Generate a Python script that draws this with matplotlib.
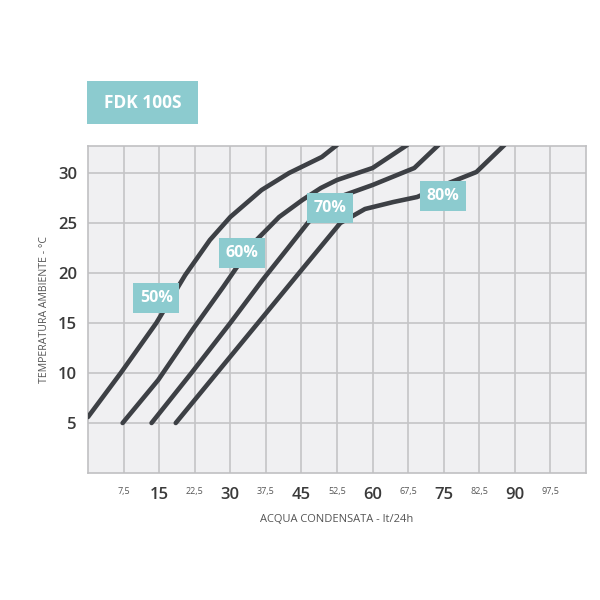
import matplotlib
matplotlib.use("Agg")
import matplotlib.pyplot as plt
from matplotlib.patches import Rectangle

plt.rcParams['font.family'] = ['Open Sans', 'DejaVu Sans']

# ---- data ----
rh50_x = [0, 6.9, 14.4, 20.5, 25.7, 30.0, 36.6, 42.4, 49.3, 52.5]
rh50_y = [5.6, 10.0, 15.0, 19.8, 23.3, 25.6, 28.3, 30.0, 31.6, 32.8]

rh60_x = [7.3, 14.8, 22.0, 28.5, 34.9, 40.3, 45.2, 49.1, 52.5, 60, 67.3]
rh60_y = [5.0, 9.3, 14.3, 18.6, 23.0, 25.6, 27.3, 28.5, 29.3, 30.5, 32.8]

rh70_x = [13.4, 21.8, 30.0, 36.8, 42.0, 46.5, 54.1, 60, 68.8, 73.9]
rh70_y = [5.0, 10.0, 15.0, 19.3, 22.4, 25.1, 27.8, 28.8, 30.5, 32.8]

rh80_x = [18.5, 44.5, 53.2, 58.4, 64.4, 69.4, 76.1, 81.9, 87.8]
rh80_y = [5.0, 20.0, 25.0, 26.4, 27.1, 27.6, 29.0, 30.1, 32.8]

series_labels = ['50%', '60%', '70%', '80%']
label_x = [14.4, 32.4, 51.0, 74.8]
label_y = [17.5, 22.0, 26.5, 27.7]

x_ticks = [7.5, 15, 22.5, 30, 37.5, 45, 52.5, 60, 67.5, 75, 82.5, 90, 97.5]
x_tick_labels = ['7,5', '15', '22,5', '30', '37,5', '45', '52,5', '60', '67,5', '75', '82,5', '90', '97,5']
y_ticks = [5, 10, 15, 20, 25, 30]
y_tick_labels = ['5', '10', '15', '20', '25', '30']

title = 'FDK 100S'
xlabel = 'ACQUA CONDENSATA - lt/24h'
ylabel = 'TEMPERATURA AMBIENTE - °C'

# ---- styling ----
teal = '#8ccbcf'
line_col = '#3d4045'
grid_col = '#c4c4c6'
bg_col = '#f0f0f2'
txt_col = '#3a3a3a'

fig = plt.figure(figsize=(6, 6), dpi=100)
ax = fig.add_axes([88/600, 1-473/600, 498/600, 327/600])
ax.set_facecolor(bg_col)
ax.set_xlim(0, 105)
ax.set_ylim(0, 32.7)

for xs, ys in [(rh50_x, rh50_y), (rh60_x, rh60_y), (rh70_x, rh70_y), (rh80_x, rh80_y)]:
    ax.plot(xs, ys, color=line_col, lw=3.3, solid_capstyle='round',
            solid_joinstyle='round', zorder=3)

for lab, lx, ly in zip(series_labels, label_x, label_y):
    ax.text(lx, ly, lab, color='white', fontsize=11.5, fontweight='bold',
            ha='center', va='center', zorder=5,
            bbox=dict(boxstyle='square,pad=0.42', fc=teal, ec='none'))

ax.set_xticks(x_ticks)
ax.set_xticklabels(x_tick_labels)
ax.set_yticks(y_ticks)
ax.set_yticklabels(y_tick_labels)
ax.grid(True, color=grid_col, lw=1.2, zorder=1)
ax.set_axisbelow(True)
ax.tick_params(axis='both', length=0)
ax.tick_params(axis='x', pad=10)
ax.tick_params(axis='y', pad=8)

for t in ax.get_xticklabels():
    if ',' in t.get_text():
        t.set_fontsize(6.5)
        t.set_color('#555555')
    else:
        t.set_fontsize(12)
        t.set_fontweight('semibold')
        t.set_color(txt_col)
    t.set_va('top')
for t in ax.get_yticklabels():
    t.set_fontsize(12)
    t.set_fontweight('semibold')
    t.set_color(txt_col)

for s in ax.spines.values():
    s.set_color('#c0c0c2')
    s.set_linewidth(1.2)

ax.set_xlabel(xlabel, fontsize=8, color='#555555', labelpad=8)
ax.set_ylabel(ylabel, fontsize=7.6, color='#555555', labelpad=6)

# title box
fig.patches.append(Rectangle((87/600, 1-124/600), 111/600, 43/600,
                             transform=fig.transFigure, fc=teal, ec='none'))
fig.text(142.5/600, 1-103/600, title, color='white', fontsize=12.5,
         fontweight='bold', ha='center', va='center')

fig.savefig('out.png', dpi=100, facecolor='white')
